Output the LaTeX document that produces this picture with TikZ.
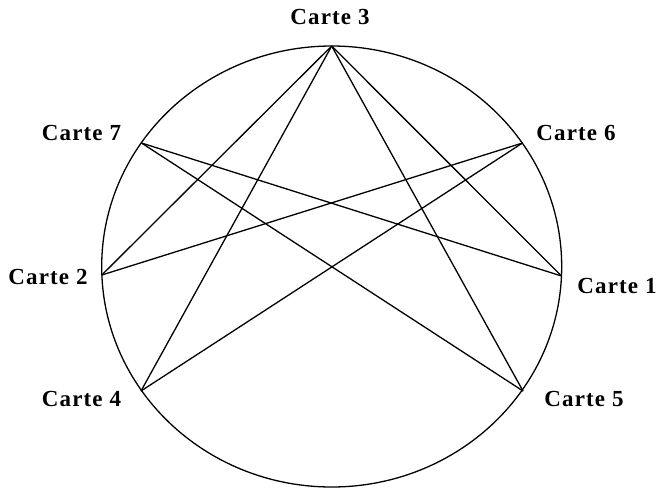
\documentclass[tikz,border=0pt]{standalone}
\usepackage{fontspec}
\setmainfont{Liberation Serif}
\newfontfamily\labfont[LetterSpace=5]{Liberation Serif}
\begin{document}
\begin{tikzpicture}[x=1pt,y=-1pt,
  lab/.style={font=\labfont\fontsize{23}{26}\selectfont\bfseries, inner sep=0pt, anchor=center},
  edge/.style={line width=1.3pt, black}]
\useasboundingbox (0,0) rectangle (659,488);
\draw[edge] (331.7,266.5) ellipse [x radius=230, y radius=220.5];
\coordinate (p3) at (331.7,46);
\coordinate (p7) at (141.5,143);
\coordinate (p6) at (522.5,143);
\coordinate (p2) at (101.8,275);
\coordinate (p1) at (561.5,276);
\coordinate (p4) at (141,391);
\coordinate (p5) at (523,391);
\draw[edge] (p3) -- (p2);
\draw[edge] (p3) -- (p4);
\draw[edge] (p3) -- (p5);
\draw[edge] (p3) -- (p1);
\draw[edge] (p7) -- (p1);
\draw[edge] (p7) -- (p5);
\draw[edge] (p6) -- (p2);
\draw[edge] (p6) -- (p4);
\node[lab] (l3) at (330,17) {Carte 3};
\node[lab] (l7) at (81.5,133) {Carte 7};
\node[lab] (l6) at (576,133) {Carte 6};
\node[lab] (l2) at (48,277) {Carte 2};
\node[lab] (l1) at (617,286) {Carte 1};
\node[lab] (l4) at (81.5,399) {Carte 4};
\node[lab] (l5) at (584,399) {Carte 5};
\end{tikzpicture}
\end{document}
